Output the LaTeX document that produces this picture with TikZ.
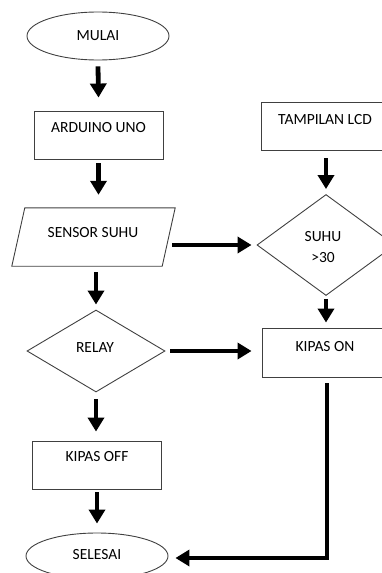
\documentclass[tikz,border=0pt]{standalone}
\usepackage{fontspec}
\setmainfont{Carlito}
\usetikzlibrary{shapes.geometric,arrows.meta}
\tikzset{
  shp/.style={draw=black!75, line width=0.9pt, inner sep=0pt},
  boxshape/.style={shp, rectangle, minimum width=129pt, minimum height=48pt},
  ellshape/.style={shp, ellipse, minimum width=142pt},
  dia/.style={shp, diamond, minimum width=138pt},
  ghost/.style={rectangle, inner sep=0pt},
  txt/.style={font=\fontsize{15.5}{18}\selectfont, text=black, inner sep=0pt, anchor=center},
  arr/.style={line width=4.8pt, -{Triangle[width=16pt,length=14pt]}},
}
\begin{document}
\begin{tikzpicture}[x=1pt,y=-1pt]
\useasboundingbox (0,0) rectangle (382,573);
\clip (0,0) rectangle (382,573);
% left column
\node[ellshape, minimum height=48pt] (mulai) at (98,36) {};
\node[txt] (tmulai) at (98,36) {MULAI};
\node[boxshape] (ard) at (98.5,135) {};
\node[txt] (tard) at (98.5,128) {ARDUINO UNO};
\node[ghost, minimum width=163pt, minimum height=58pt] (sen) at (93.5,237) {};
\draw[shp] ([xshift=13pt]sen.north west) -- (sen.north east) -- ([xshift=-13pt]sen.south east) -- (sen.south west) -- cycle;
\node[txt] (tsen) at (93,233) {SENSOR SUHU};
\node[dia, minimum height=82pt] (relay) at (96,351) {};
\node[txt] (trelay) at (95,348) {RELAY};
\node[boxshape] (koff) at (97,465) {};
\node[txt] (tkoff) at (97,457) {KIPAS OFF};
\node[ellshape, minimum height=46pt] (sel) at (97,556) {};
\node[txt] (tsel) at (97,555) {SELESAI};
% right column
\node[boxshape, minimum width=130pt] (lcd) at (326,126) {};
\node[txt] (tlcd) at (325,120) {TAMPILAN LCD};
\node[dia, minimum width=138pt, minimum height=101pt] (suhu) at (326,245) {};
\node[txt] (tsuhu1) at (323,237) {SUHU};
\node[txt] (tsuhu2) at (323,258) {>30};
\node[boxshape, minimum width=130pt, minimum height=49pt] (kon) at (327,352.5) {};
\node[txt] (tkon) at (325,347) {KIPAS ON};
% arrows
\draw[arr] ([yshift=-6pt]mulai.south) -- ([yshift=13pt]ard.north);
\draw[arr] ([yshift=-4pt]ard.south) -- ([yshift=13pt]ard.north |- sen.north);
\draw[arr] ([yshift=-6pt]relay.north |- sen.south) -- ([yshift=5pt]relay.north);
\draw[arr] ([yshift=-7pt]relay.south) -- ([yshift=9pt]relay.south |- koff.north);
\draw[arr] ([yshift=-3pt]koff.south) -- ([yshift=9pt]sel.north);
\draw[arr] ([yshift=-8pt]lcd.south) -- ([yshift=5pt]suhu.north);
\draw[arr] ([yshift=-3pt]suhu.south) -- ([yshift=5pt]suhu.south |- kon.north);
\draw[arr] ([xshift=-3pt]sen.east |- suhu.west) -- ([xshift=-5pt]suhu.west);
\draw[arr] ([xshift=5pt]relay.east) -- ([xshift=-10pt]kon.west |- relay.east);
\draw[arr] ([yshift=-6pt]kon.south) |- ([xshift=7pt,yshift=-2pt]sel.east);
\end{tikzpicture}
\end{document}
